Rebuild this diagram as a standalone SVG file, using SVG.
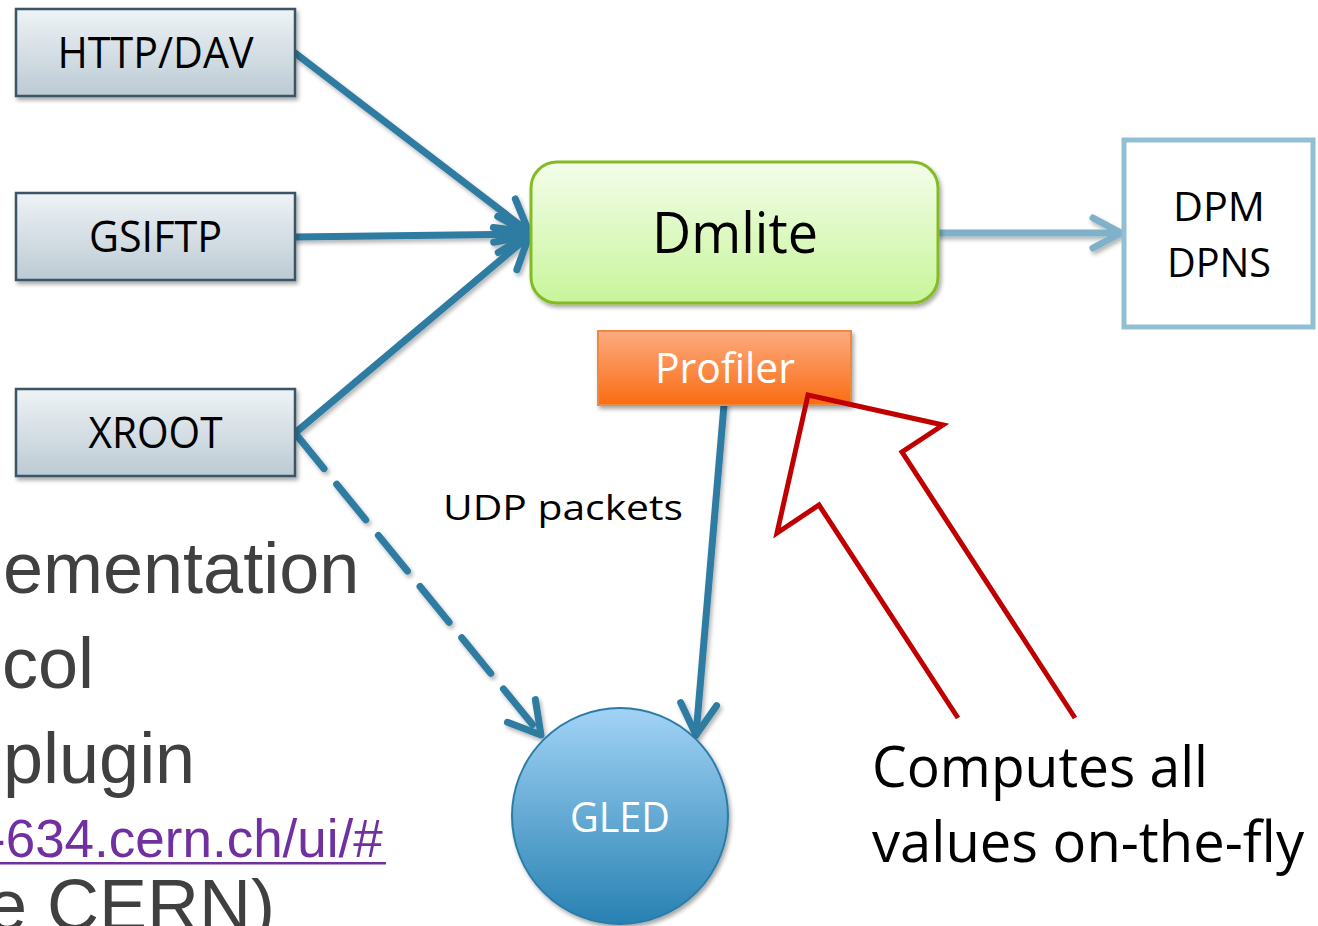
<svg xmlns="http://www.w3.org/2000/svg" width="1318" height="926" viewBox="0 0 1318 926">
<style>
.lbl{font-family:"Open Sans","Noto Sans","Liberation Sans",sans-serif;}
.dark{fill:#000;}
.white{fill:#fff;}
.slide{font-family:"Liberation Sans",Arial,sans-serif;fill:#404040;font-size:72px;}
.conn{fill:none;stroke:#2f7ba2;stroke-width:7;stroke-linecap:round;}
.proto rect{fill:url(#gProto);stroke:#3a5566;stroke-width:2.5;filter:url(#sh);}
</style>
<defs>
<linearGradient id="gProto" x1="0" y1="0" x2="0" y2="1"><stop offset="0" stop-color="#eef3f6"/><stop offset="1" stop-color="#bccad4"/></linearGradient>
<linearGradient id="gDm" x1="0" y1="0" x2="0" y2="1"><stop offset="0" stop-color="#f3fdea"/><stop offset="1" stop-color="#c8f59a"/></linearGradient>
<linearGradient id="gProf" x1="0" y1="0" x2="0" y2="1"><stop offset="0" stop-color="#fcab80"/><stop offset="1" stop-color="#fa6c12"/></linearGradient>
<linearGradient id="gGled" x1="0" y1="0" x2="0" y2="1"><stop offset="0" stop-color="#a2d3f6"/><stop offset="1" stop-color="#2781b2"/></linearGradient>
<filter id="sh" x="-20%" y="-20%" width="140%" height="140%"><feGaussianBlur in="SourceAlpha" stdDeviation="2"/><feOffset dx="2" dy="3" result="b"/><feComponentTransfer><feFuncA type="linear" slope="0.35"/></feComponentTransfer><feMerge><feMergeNode/><feMergeNode in="SourceGraphic"/></feMerge></filter>
<filter id="shL" filterUnits="userSpaceOnUse" x="0" y="0" width="1318" height="926"><feGaussianBlur in="SourceAlpha" stdDeviation="2"/><feOffset dx="2" dy="3" result="b"/><feComponentTransfer><feFuncA type="linear" slope="0.3"/></feComponentTransfer><feMerge><feMergeNode/><feMergeNode in="SourceGraphic"/></feMerge></filter>
<marker id="chev" markerUnits="userSpaceOnUse" viewBox="-40 -25 50 50" refX="0" refY="0" markerWidth="50" markerHeight="50" orient="auto"><path d="M-31,-18 L0,0 L-31,18" fill="none" stroke="#2f7ba2" stroke-width="7" stroke-linecap="round" stroke-linejoin="round"/></marker>
<marker id="chevL" markerUnits="userSpaceOnUse" viewBox="-40 -25 50 50" refX="0" refY="0" markerWidth="50" markerHeight="50" orient="auto"><path d="M-28,-15 L0,0 L-28,15" fill="none" stroke="#7fb1c9" stroke-width="7" stroke-linecap="round" stroke-linejoin="round"/></marker>
</defs>
<rect width="1318" height="926" fill="#fff"/>

<g id="slide-text">
<text class="slide" x="3" y="593">ementation</text>
<text class="slide" x="2" y="688">col</text>
<text class="slide" x="3" y="783">plugin</text>
<text x="-12" y="857" style="font-family:'Liberation Sans',Arial,sans-serif;font-size:53px;fill:#7030a0;">-634.cern.ch/ui/#</text>
<rect x="0" y="862" width="386" height="2.5" fill="#7030a0"/>
<text class="slide" x="-13" y="930">e CERN)</text>
</g>

<g id="connectors" filter="url(#shL)">
<line class="conn" x1="295" y1="53" x2="529" y2="232" marker-end="url(#chev)"/>
<line class="conn" x1="295" y1="237" x2="529" y2="234" marker-end="url(#chev)"/>
<line class="conn" x1="295" y1="433" x2="529" y2="236" marker-end="url(#chev)"/>
<line class="conn" x1="295" y1="433" x2="541" y2="735" stroke-dasharray="46,20" marker-end="url(#chev)"/>
<line class="conn" x1="724" y1="405" x2="696" y2="735" marker-end="url(#chev)"/>
<line x1="939" y1="233" x2="1121" y2="233" stroke="#7fb1c9" stroke-width="7" stroke-linecap="round" marker-end="url(#chevL)"/>
</g>

<g id="http-dav" class="proto"><rect x="16" y="9" width="279" height="87"/><text class="lbl dark" x="155.5" y="68" font-size="43" text-anchor="middle" textLength="196" lengthAdjust="spacingAndGlyphs">HTTP/DAV</text></g>
<g id="gsiftp" class="proto"><rect x="16" y="193" width="279" height="87"/><text class="lbl dark" x="155.5" y="252" font-size="43" text-anchor="middle" textLength="133" lengthAdjust="spacingAndGlyphs">GSIFTP</text></g>
<g id="xroot" class="proto"><rect x="16" y="389" width="279" height="87"/><text class="lbl dark" x="155.5" y="448" font-size="43" text-anchor="middle" textLength="134" lengthAdjust="spacingAndGlyphs">XROOT</text></g>

<g id="dmlite"><rect x="531" y="162" width="407" height="141" rx="26" fill="url(#gDm)" stroke="#84bb24" stroke-width="3" filter="url(#sh)"/><text class="lbl dark" x="735" y="253" font-size="56" text-anchor="middle" textLength="166" lengthAdjust="spacingAndGlyphs">Dmlite</text></g>

<g id="profiler"><rect x="598" y="331" width="253" height="74" fill="url(#gProf)" stroke="#ee8a40" stroke-width="2" filter="url(#sh)"/><text class="lbl white" x="725" y="383" font-size="42" text-anchor="middle" textLength="140" lengthAdjust="spacingAndGlyphs">Profiler</text></g>

<g id="dpm"><rect x="1124" y="140" width="189" height="187" fill="#fff" stroke="#93bfd2" stroke-width="5"/><text class="lbl dark" x="1219" y="221" font-size="40" text-anchor="middle" textLength="92" lengthAdjust="spacingAndGlyphs">DPM</text><text class="lbl dark" x="1219" y="277" font-size="40" text-anchor="middle" textLength="104" lengthAdjust="spacingAndGlyphs">DPNS</text></g>

<g id="gled"><circle cx="620" cy="816" r="108" fill="url(#gGled)" stroke="#2b7ca6" stroke-width="2" filter="url(#sh)"/><text class="lbl white" x="620" y="832" font-size="42" text-anchor="middle" textLength="100" lengthAdjust="spacingAndGlyphs">GLED</text></g>

<g id="udp-label"><text class="lbl dark" x="443" y="520" font-size="34" textLength="240" lengthAdjust="spacingAndGlyphs">UDP packets</text></g>

<g id="callout-arrow"><polyline points="958,718 819,505 777,533 808,395 943,425 902,452 1075,718" fill="none" stroke="#c00000" stroke-width="5" stroke-linejoin="miter"/></g>

<g id="callout-text">
<text class="lbl dark" x="872" y="787" font-size="57" textLength="336" lengthAdjust="spacingAndGlyphs">Computes all</text>
<text class="lbl dark" x="872" y="862" font-size="57" textLength="432" lengthAdjust="spacingAndGlyphs">values on-the-fly</text>
</g>
</svg>
